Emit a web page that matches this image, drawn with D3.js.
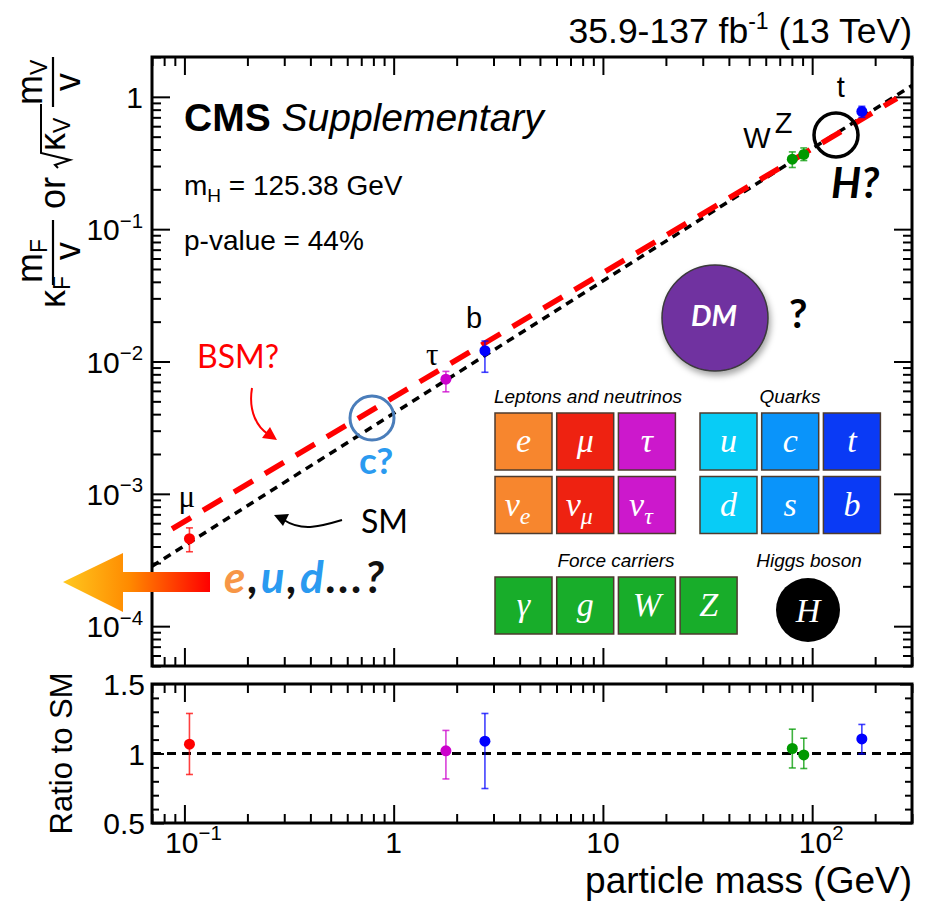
<!DOCTYPE html>
<html>
<head>
<meta charset="utf-8">
<script src="https://cdn.jsdelivr.net/npm/d3@7"></script>
<style>
  body { margin: 0; background: #fff; }
  svg { display: block; font-family: "Liberation Sans", Arial, sans-serif; }
</style>
</head>
<body>
<svg id="chart" width="927" height="905"></svg>
<script>
// ---- data ----
const particles = ["μ", "τ", "b", "W", "Z", "t"];
const masses = [0.1057, 1.777, 2.73, 80.38, 91.19, 172.76];
const pointColors = ["#ff0000", "#cc00cc", "#0000ff", "#009900", "#009900", "#0000ff"];
// reduced coupling (main panel)
const reduced = [4.58e-4, 7.35e-3, 1.207e-2, 0.338, 0.367, 0.775];
const reducedLo = [3.65e-4, 5.90e-3, 8.29e-3, 0.2925, 0.330, 0.700];
const reducedHi = [5.53e-4, 8.42e-3, 1.428e-2, 0.3836, 0.411, 0.848];
// ratio to SM (lower panel)
const ratio = [1.067, 1.019, 1.089, 1.036, 0.990, 1.105];
const ratioLo = [0.849, 0.817, 0.748, 0.896, 0.892, 0.997];
const ratioHi = [1.288, 1.166, 1.288, 1.175, 1.110, 1.209];
// SM and "BSM?" lines
const smMass = [0.07, 300];
const smValue = [2.84e-4, 1.218];
const bsmMass = [0.0873, 254];
const bsmValue = [5.44e-4, 0.974];
// axes
const xDomain = [0.07, 300];
const yDomain = [5e-5, 2];
const ratioDomain = [0.5, 1.5];
const xMajor = [0.1, 1, 10, 100];
const xLabels = [["10", "−1"], ["1", ""], ["10", ""], ["10", "2"]];
const yMajor = [1, 0.1, 0.01, 0.001, 0.0001];
const yLabels = [["1", ""], ["10", "−1"], ["10", "−2"], ["10", "−3"], ["10", "−4"]];
const ratioMajor = [0.5, 1, 1.5];
const ratioLabels = ["0.5", "1", "1.5"];

const svg = d3.select("#chart");
const left = 152, right = 912, mainTop = 57, mainBot = 666, ratTop = 684, ratBot = 823;

const x = d3.scaleLog().domain(xDomain).range([left, right]);
const y = d3.scaleLog().domain(yDomain).range([mainBot, mainTop]);
const yr = d3.scaleLinear().domain(ratioDomain).range([ratBot, ratTop]);

const defs = svg.append("defs");
defs.append("clipPath").attr("id", "clipMain")
  .append("rect").attr("x", left).attr("y", mainTop).attr("width", right - left).attr("height", mainBot - mainTop);
defs.append("clipPath").attr("id", "clipRatio")
  .append("rect").attr("x", left).attr("y", ratTop).attr("width", right - left).attr("height", ratBot - ratTop);
let grad = defs.append("linearGradient").attr("id", "arrowGrad")
  .attr("gradientUnits", "userSpaceOnUse").attr("x1", 63).attr("x2", 210).attr("y1", 0).attr("y2", 0);
grad.append("stop").attr("offset", "0%").attr("stop-color", "#ffc81e");
grad.append("stop").attr("offset", "45%").attr("stop-color", "#ff8a00");
grad.append("stop").attr("offset", "100%").attr("stop-color", "#ff0000");
let shadow = defs.append("filter").attr("id", "shadow").attr("x", "-30%").attr("y", "-30%").attr("width", "160%").attr("height", "160%");
shadow.append("feDropShadow").attr("dx", 2).attr("dy", 4).attr("stdDeviation", 3).attr("flood-opacity", 0.35);

// ---- ticks (inward, mirrored on all four sides) ----
function drawTicks(opts) {
  let g = svg.append("g");
  let minorX = x.ticks().filter(v => xMajor.indexOf(v) < 0);
  let specs = [
    [d3.axisBottom, "translate(0," + opts.bot + ")", x, minorX, opts.xMin],
    [d3.axisBottom, "translate(0," + opts.bot + ")", x, xMajor, opts.xMaj],
    [d3.axisTop, "translate(0," + opts.top + ")", x, minorX, opts.xMin],
    [d3.axisTop, "translate(0," + opts.top + ")", x, xMajor, opts.xMaj],
    [d3.axisLeft, "translate(" + left + ",0)", opts.ys, opts.yMinorVals, opts.yMin],
    [d3.axisLeft, "translate(" + left + ",0)", opts.ys, opts.yMajorVals, opts.yMaj],
    [d3.axisRight, "translate(" + right + ",0)", opts.ys, opts.yMinorVals, opts.yMin],
    [d3.axisRight, "translate(" + right + ",0)", opts.ys, opts.yMajorVals, opts.yMaj]
  ];
  specs.forEach(([ax, tr, sc, vals, len]) => {
    let a = g.append("g").attr("transform", tr)
      .call(ax(sc).tickValues(vals).tickSize(-len).tickFormat(""));
    a.select(".domain").remove();
    a.selectAll("line").attr("stroke", "#000").attr("stroke-width", 2);
  });
}

drawTicks({
  top: mainTop, bot: mainBot, ys: y,
  xMin: 9, xMaj: 18, yMin: 9, yMaj: 18,
  yMinorVals: y.ticks().filter(v => yMajor.indexOf(v) < 0),
  yMajorVals: yMajor
});
drawTicks({
  top: ratTop, bot: ratBot, ys: yr,
  xMin: 9, xMaj: 18, yMin: 7, yMaj: 12,
  yMinorVals: yr.ticks(10).filter(v => ratioMajor.indexOf(+v.toFixed(2)) < 0),
  yMajorVals: ratioMajor
});

// frames
[[mainTop, mainBot], [ratTop, ratBot]].forEach(([t, b]) => {
  svg.append("rect").attr("x", left).attr("y", t).attr("width", right - left).attr("height", b - t)
    .attr("fill", "none").attr("stroke", "#000").attr("stroke-width", 3);
});

// tick labels
function powText(px, py, base, exp, anchor, size) {
  let t = svg.append("text").attr("x", px).attr("y", py).attr("text-anchor", anchor)
    .attr("font-size", size).attr("fill", "#000");
  t.append("tspan").text(base);
  if (exp) t.append("tspan").attr("font-size", size * 0.68).attr("dy", -size * 0.42).text(exp);
  return t;
}
yMajor.forEach((v, i) => powText(143, y(v) + 11, yLabels[i][0], yLabels[i][1], "end", 30));
xMajor.forEach((v, i) => powText(x(v) + (xLabels[i][1] ? 9 : 0), 853, xLabels[i][0], xLabels[i][1], "middle", 30));
ratioMajor.forEach((v, i) => powText(145, yr(v) + 11, ratioLabels[i], "", "end", 30));

// axis titles
svg.append("text").attr("x", 912).attr("y", 893).attr("text-anchor", "end")
  .attr("font-size", 37).text("particle mass (GeV)");
svg.append("text").attr("transform", "translate(72," + yr(1) + ") rotate(-90)")
  .attr("text-anchor", "middle").attr("font-size", 31).text("Ratio to SM");

let lumi = svg.append("text").attr("x", 912).attr("y", 43).attr("text-anchor", "end").attr("font-size", 35.5);
lumi.append("tspan").text("35.9-137 fb");
lumi.append("tspan").attr("font-size", 23).attr("dy", -14).text("-1");
lumi.append("tspan").attr("dy", 14).text(" (13 TeV)");

// y title of main panel, built piece by piece (rotated)
let yt = svg.append("g").attr("transform", "rotate(-90)").attr("font-size", 36);
function rtext(sy, sx, str) {
  return yt.append("text").attr("x", -sy).attr("y", sx).text(str);
}
function rsub(sy, sx, main, sub) {
  let t = yt.append("text").attr("x", -sy).attr("y", sx);
  t.append("tspan").text(main);
  t.append("tspan").attr("font-size", 23).attr("dy", 5).text(sub);
  return t;
}
rsub(308, 65, "κ", "F");
rsub(283, 42, "m", "F");
yt.append("line").attr("x1", -285).attr("x2", -220).attr("y1", 53).attr("y2", 53).attr("stroke", "#000").attr("stroke-width", 2.2);
rtext(251, 80, "v").attr("text-anchor", "middle");
rtext(209, 65, "or");
yt.append("path").attr("d", "M-168,58 L-165,55 L-160,70 L-153,41 L-104,41")
  .attr("fill", "none").attr("stroke", "#000").attr("stroke-width", 2);
rsub(151, 65, "κ", "V");
rsub(105, 42, "m", "V");
yt.append("line").attr("x1", -107).attr("x2", -57).attr("y1", 53).attr("y2", 53).attr("stroke", "#000").attr("stroke-width", 2.2);
rtext(82, 80, "v").attr("text-anchor", "middle");

// ---- main panel content ----
let main = svg.append("g").attr("clip-path", "url(#clipMain)");
const line = d3.line().x(d => x(d[0])).y(d => y(d[1]));
main.append("path").datum(d3.zip(smMass, smValue)).attr("d", line)
  .attr("stroke", "#000").attr("stroke-width", 3.5).attr("stroke-dasharray", "8,6").attr("fill", "none");
main.append("path").datum(d3.zip(bsmMass, bsmValue)).attr("d", line)
  .attr("stroke", "#ff0000").attr("stroke-width", 5.5).attr("stroke-dasharray", "22,14").attr("fill", "none");

function drawPoints(g, ys, vals, lo, hi) {
  masses.forEach((m, i) => {
    let px = x(m);
    let col = pointColors[i];
    g.append("line").attr("x1", px).attr("x2", px).attr("y1", ys(lo[i])).attr("y2", ys(hi[i]))
      .attr("stroke", col).attr("stroke-opacity", 0.75).attr("stroke-width", 1.6);
    [lo[i], hi[i]].forEach(v => g.append("line").attr("x1", px - 3.5).attr("x2", px + 3.5)
      .attr("y1", ys(v)).attr("y2", ys(v)).attr("stroke", col).attr("stroke-opacity", 0.75).attr("stroke-width", 1.6));
    g.append("circle").attr("cx", px).attr("cy", ys(vals[i])).attr("r", 5.5).attr("fill", col);
  });
}
drawPoints(main, y, reduced, reducedLo, reducedHi);

// particle labels next to the points
const labelOffsets = [[-11, -32], [-20, -14], [-19, -23], [-49, -11], [-29, -21], [-25, -14]];
particles.forEach((p, i) => {
  let greek = p === "μ" || p === "τ";
  svg.append("text").attr("x", x(masses[i]) + labelOffsets[i][0]).attr("y", y(reduced[i]) + labelOffsets[i][1])
    .attr("font-size", greek ? 31 : 29)
    .attr("font-family", greek ? "'Liberation Serif', serif" : null)
    .text(p);
});

// CMS label block
let cms = svg.append("text").attr("x", 184).attr("y", 131).attr("font-size", 39);
cms.append("tspan").attr("font-weight", "bold").text("CMS");
cms.append("tspan").attr("font-style", "italic").text(" Supplementary");
let mh = svg.append("text").attr("x", 184).attr("y", 195).attr("font-size", 28);
mh.append("tspan").text("m");
mh.append("tspan").attr("font-size", 19).attr("dy", 7).text("H");
mh.append("tspan").attr("dy", -7).text(" = 125.38 GeV");
svg.append("text").attr("x", 184).attr("y", 250).attr("font-size", 28).text("p-value = 44%");

// annotations
const calib = "Lato, 'Open Sans', sans-serif";
svg.append("text").attr("x", 197).attr("y", 368).attr("font-family", calib).attr("font-size", 32)
  .attr("fill", "#ff0000").text("BSM?");
svg.append("path").attr("d", "M252,388 C248,412 258,428 268,434").attr("fill", "none")
  .attr("stroke", "#ff0000").attr("stroke-width", 2);
svg.append("path").attr("d", "M277,440 L262,438 L270,427 Z").attr("fill", "#ff0000");
svg.append("text").attr("x", 361).attr("y", 533).attr("font-family", calib).attr("font-size", 32).text("SM");
svg.append("path").attr("d", "M342,520 C322,526 302,532 284,520").attr("fill", "none")
  .attr("stroke", "#000").attr("stroke-width", 2);
svg.append("path").attr("d", "M274,515 L289,514 L283,526 Z").attr("fill", "#000");
svg.append("circle").attr("cx", 372).attr("cy", 418).attr("r", 22).attr("fill", "none")
  .attr("stroke", "#4a7dba").attr("stroke-width", 3);
svg.append("text").attr("x", 359).attr("y", 474).attr("font-family", calib).attr("font-weight", "bold")
  .attr("font-size", 37).attr("fill", "#2a9af0").text("c?");
svg.append("circle").attr("cx", 836).attr("cy", 135).attr("r", 22).attr("fill", "none")
  .attr("stroke", "#000").attr("stroke-width", 3.5);
svg.append("text").attr("x", 831).attr("y", 198).attr("font-family", calib).attr("font-weight", "bold")
  .attr("font-style", "italic").attr("font-size", 42).text("H?");

// dark matter
svg.append("circle").attr("cx", 715).attr("cy", 318).attr("r", 53).attr("fill", "#7030a0")
  .attr("stroke", "#3a3a3a").attr("stroke-width", 1.5).attr("filter", "url(#shadow)");
svg.append("text").attr("x", 714).attr("y", 326).attr("text-anchor", "middle").attr("font-family", calib)
  .attr("font-weight", "bold").attr("font-style", "italic").attr("font-size", 29).attr("fill", "#fff").text("DM");
svg.append("text").attr("x", 789).attr("y", 328).attr("font-family", calib).attr("font-weight", "bold")
  .attr("font-size", 40).text("?");

// light fermions arrow
svg.append("path").attr("d", "M63,582 L123,553 L123,572 L210,572 L210,592 L123,592 L123,612 Z")
  .attr("fill", "url(#arrowGrad)");
let eud = svg.append("text").attr("x", 224).attr("y", 593).attr("font-family", calib)
  .attr("font-weight", "bold").attr("font-style", "italic").attr("font-size", 44)
  .attr("textLength", 160).attr("lengthAdjust", "spacing");
[["e", "#f79646"], [",", "#111"], ["u", "#2a9af0"], [",", "#111"], ["d", "#2a9af0"], ["...?", "#111"]]
  .forEach(([s, c]) => eud.append("tspan").attr("fill", c).text(s));

// ---- particle table ----
const serif = "'Liberation Serif', 'Times New Roman', serif";
const leptonSyms = [["e", ""], ["μ", ""], ["τ", ""], ["ν", "e"], ["ν", "μ"], ["ν", "τ"]];
const leptonCols = ["#f7862e", "#ee2211", "#cc18cc"];
const quarkSyms = [["u", ""], ["c", ""], ["t", ""], ["d", ""], ["s", ""], ["b", ""]];
const quarkCols = ["#08ccf6", "#0a94fa", "#0a3af5"];
const bosonSyms = [["γ", ""], ["g", ""], ["W", ""], ["Z", ""]];
const bosonCol = "#18ad2a";

function box(bx, by, col, sym) {
  svg.append("rect").attr("x", bx).attr("y", by).attr("width", 57).attr("height", 57)
    .attr("fill", col).attr("stroke", "#4d3b2f").attr("stroke-width", 1.5);
  let t = svg.append("text").attr("x", bx + 28.5 - (sym[1] ? 6 : 0)).attr("y", by + 39)
    .attr("text-anchor", "middle").attr("font-family", serif).attr("font-style", "italic")
    .attr("font-size", 34).attr("fill", "#fff");
  t.append("tspan").text(sym[0]);
  if (sym[1]) t.append("tspan").attr("font-size", 24).attr("dy", 8).text(sym[1]);
}
leptonSyms.forEach((s, i) => box(495 + (i % 3) * 61.7, 413 + Math.floor(i / 3) * 63.5, leptonCols[i % 3], s));
quarkSyms.forEach((s, i) => box(700 + (i % 3) * 61.7, 413 + Math.floor(i / 3) * 63.5, quarkCols[i % 3], s));
bosonSyms.forEach((s, i) => box(495 + i * 61.7, 577, bosonCol, s));
svg.append("circle").attr("cx", 808).attr("cy", 610).attr("r", 32).attr("fill", "#000");
svg.append("text").attr("x", 808).attr("y", 622).attr("text-anchor", "middle").attr("font-family", serif)
  .attr("font-style", "italic").attr("font-size", 34).attr("fill", "#fff").text("H");

[["Leptons and neutrinos", 588, 403], ["Quarks", 790, 403], ["Force carriers", 616, 567], ["Higgs boson", 809, 567]]
  .forEach(([s, cx, cy]) => svg.append("text").attr("x", cx).attr("y", cy).attr("text-anchor", "middle")
    .attr("font-style", "italic").attr("font-size", 19).text(s));

// ---- ratio panel ----
let rat = svg.append("g").attr("clip-path", "url(#clipRatio)");
rat.append("line").attr("x1", left).attr("x2", right).attr("y1", yr(1)).attr("y2", yr(1))
  .attr("stroke", "#000").attr("stroke-width", 3).attr("stroke-dasharray", "9,6");
drawPoints(rat, yr, ratio, ratioLo, ratioHi);
</script>
</body>
</html>
